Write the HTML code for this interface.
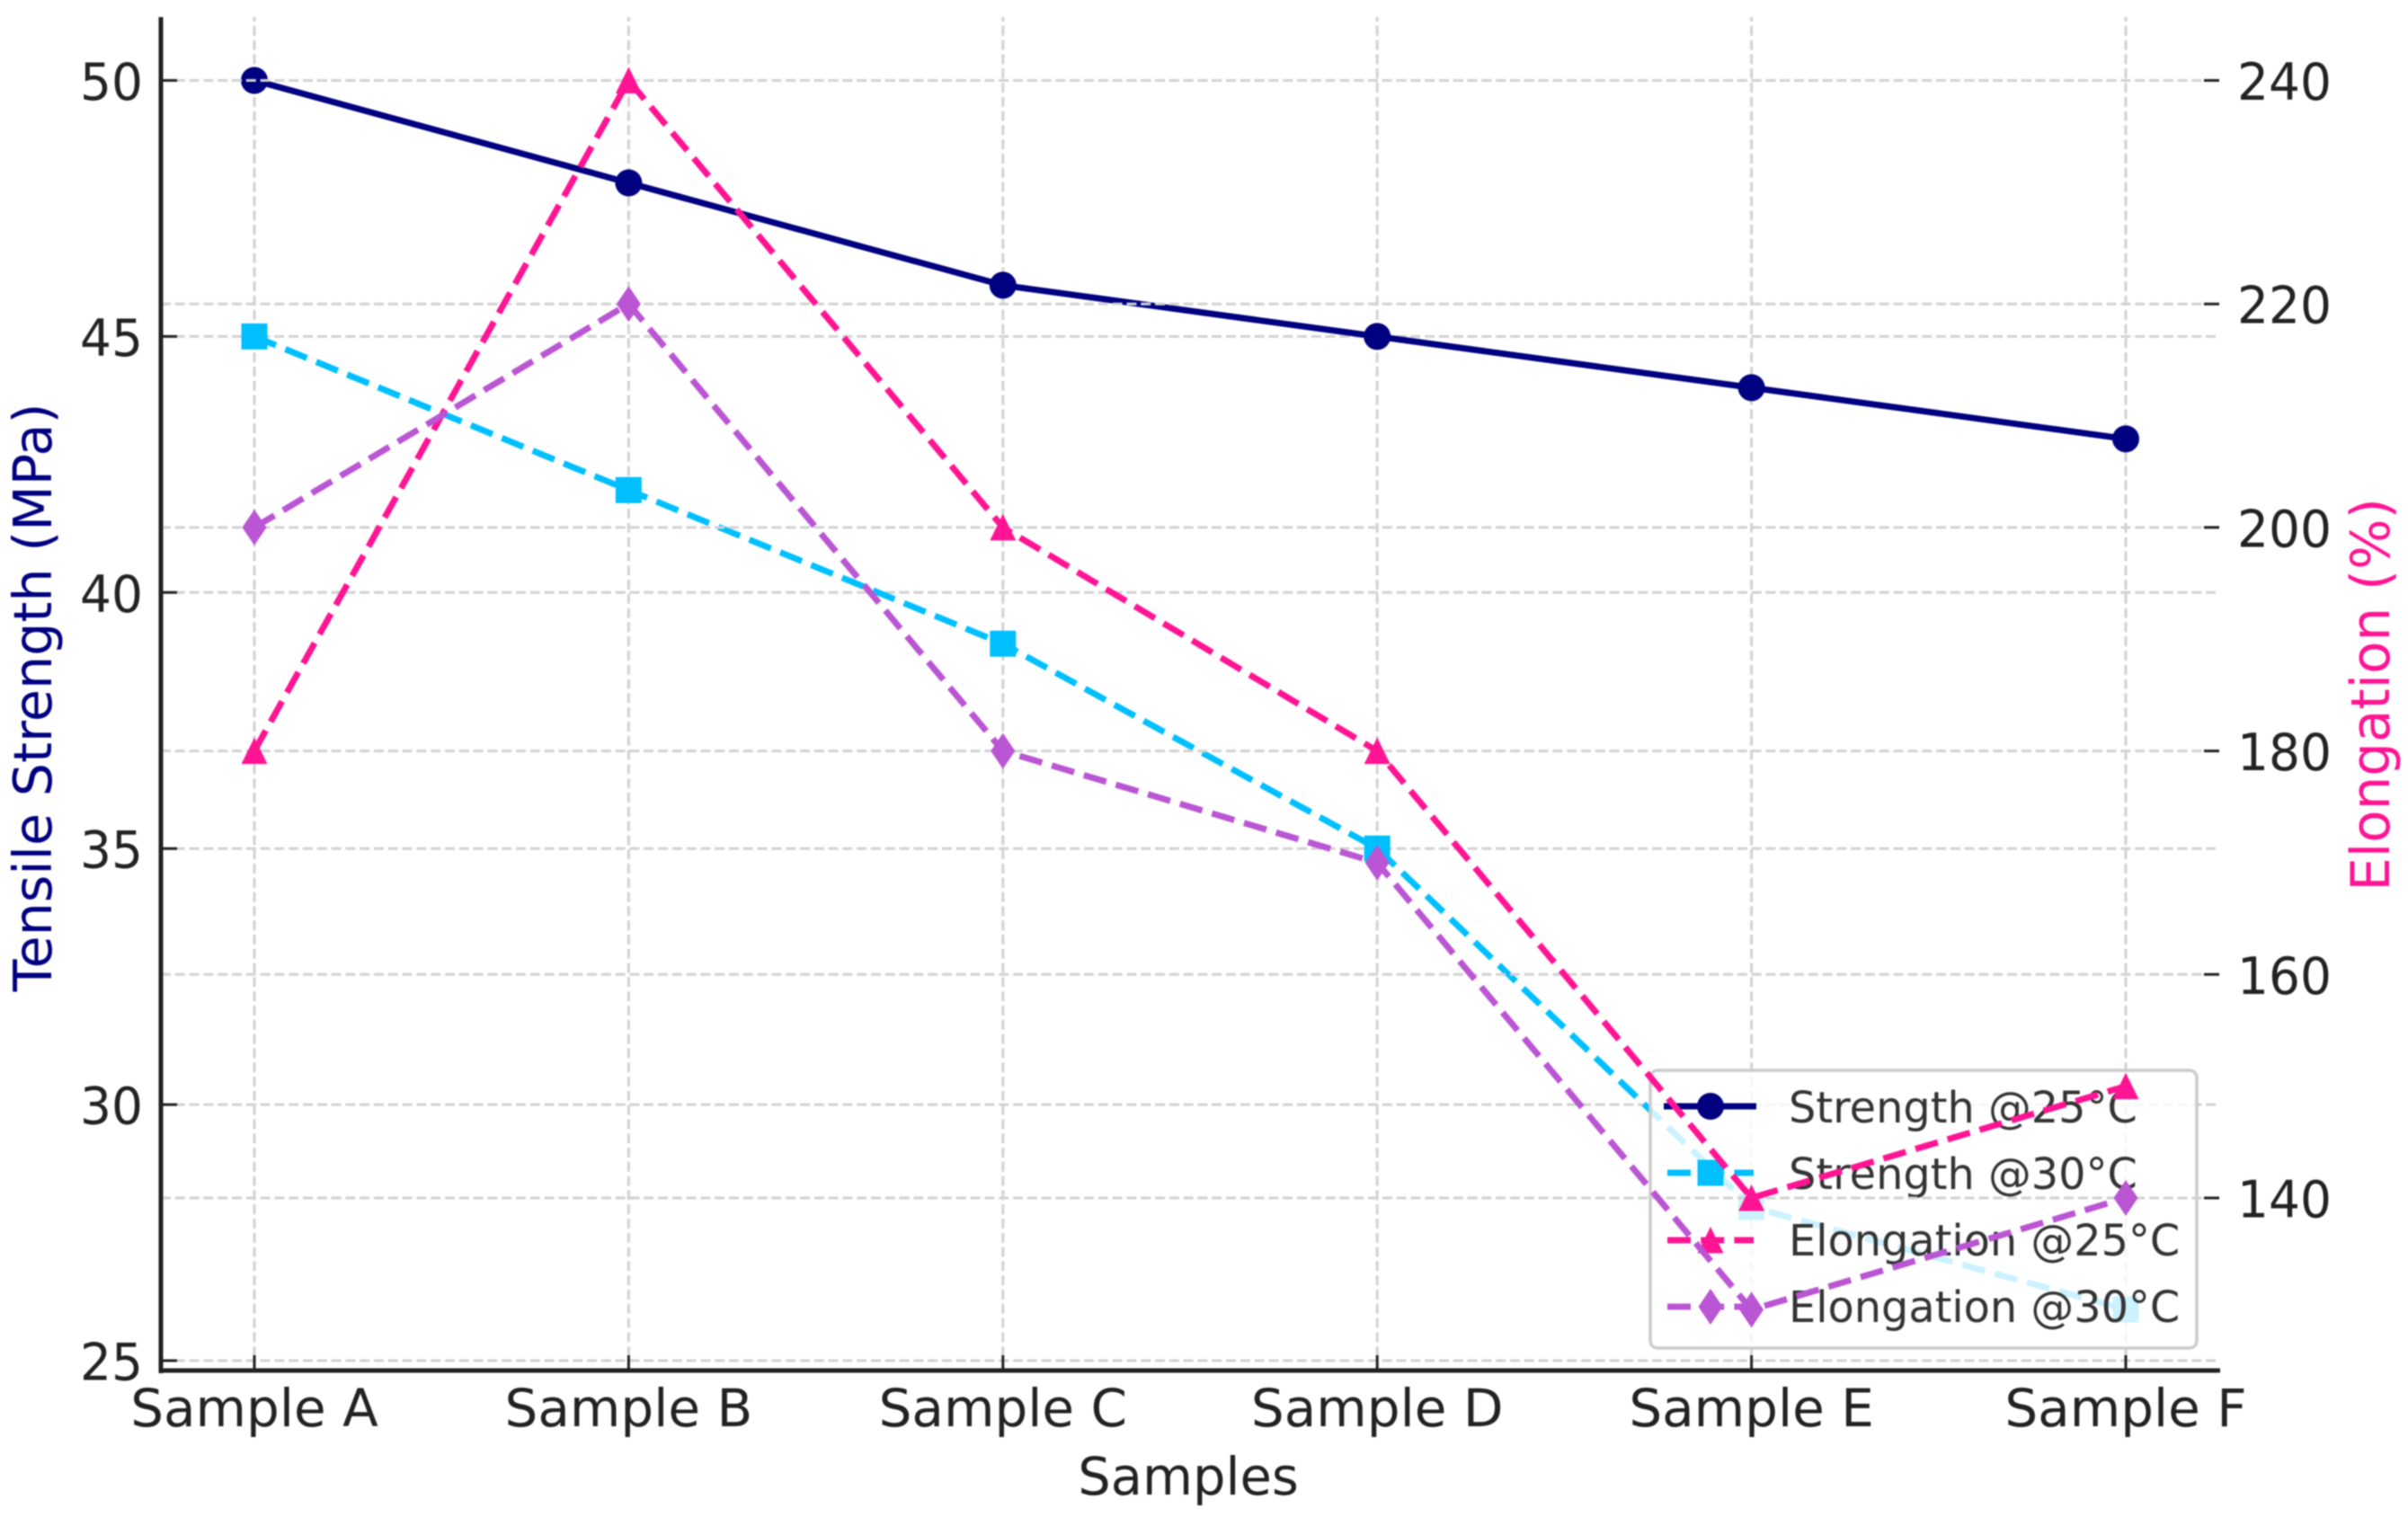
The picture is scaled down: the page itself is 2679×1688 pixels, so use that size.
<!DOCTYPE html>
<html lang="en">
<head>
<meta charset="utf-8">
<title>Tensile Strength and Elongation by Sample</title>
<style>
html,body{margin:0;padding:0;background:#fff;width:2679px;height:1688px;overflow:hidden}
svg{display:block;filter:blur(0.9px)}
text{font-family:"DejaVu Sans","Liberation Sans",sans-serif}
.tick{font-size:57px;fill:#222}
.xtick{font-size:58px;fill:#222}
.leg{font-size:47.8px;fill:#333}
</style>
</head>
<body>
<svg id="chart" xmlns="http://www.w3.org/2000/svg" width="2679" height="1688" viewBox="0 0 2679 1688">
  <rect x="0" y="0" width="2679" height="1688" fill="#fff"/>
  <g id="grid-left"></g>
  <g id="series-left"></g>
  <g id="legend">
    <rect x="1836" y="1191" width="608" height="309" rx="8" fill="#fff" fill-opacity="0.8" stroke="#ccc" stroke-width="3.5"/>
    <g id="legend-handles"></g>
    <text class="leg" x="1990" y="1249">Strength @25°C</text>
    <text class="leg" x="1990" y="1323">Strength @30°C</text>
    <text class="leg" x="1990" y="1397">Elongation @25°C</text>
    <text class="leg" x="1990" y="1471">Elongation @30°C</text>
  </g>
  <g id="grid-right"></g>
  <g id="series-right"></g>
  <g id="axes">
    <line x1="179" y1="19" x2="179" y2="1528" stroke="#222" stroke-width="5"/>
    <line x1="177" y1="1525" x2="2470" y2="1525" stroke="#222" stroke-width="5"/>
  </g>
  <g id="tick-marks"></g>
  <g id="tick-labels"></g>
  <text x="1322" y="1663" text-anchor="middle" font-size="57.5" fill="#222">Samples</text>
  <text transform="translate(57 776) rotate(-90)" text-anchor="middle" font-size="58.7" fill="#000080">Tensile Strength (MPa)</text>
  <text transform="translate(2658 773) rotate(-90)" text-anchor="middle" font-size="59.4" fill="#ff1493">Elongation (%)</text>
</svg>
<script>
const categories = ["Sample A", "Sample B", "Sample C", "Sample D", "Sample E", "Sample F"];
const strength25 = [50, 48, 46, 45, 44, 43];
const strength30 = [45, 42, 39, 35, 28, 26];
const elongation25 = [180, 240, 200, 180, 140, 150];
const elongation30 = [200, 220, 180, 170, 130, 140];
const leftTickLabels = [25, 30, 35, 40, 45, 50];
const rightTickLabels = [140, 160, 180, 200, 220, 240];

const NS = "http://www.w3.org/2000/svg";
const PLOT = {left: 179, right: 2469, top: 19, bottom: 1525};

function xScale(i) { return 283 + i * 416.4; }
function yLeft(v) { return 89.5 + (50 - v) * 56.98; }
function yRight(v) { return 89.5 + (240 - v) * 12.435; }

function make(tag, attrs, parent) {
  const el = document.createElementNS(NS, tag);
  for (const k in attrs) el.setAttribute(k, attrs[k]);
  parent.appendChild(el);
  return el;
}
function markerShape(kind, cx, cy, color, parent) {
  let el;
  if (kind === "circle") {
    el = make("circle", {cx: cx, cy: cy, r: 15, fill: color}, parent);
  } else if (kind === "square") {
    el = make("rect", {x: cx - 14.5, y: cy - 14.5, width: 29, height: 29, fill: color}, parent);
  } else if (kind === "triangle") {
    el = make("polygon", {points: [cx, cy - 15, cx + 14.5, cy + 14.5, cx - 14.5, cy + 14.5].join(" "), fill: color}, parent);
  } else {
    el = make("polygon", {points: [cx, cy - 20, cx + 13.5, cy, cx, cy + 20, cx - 13.5, cy].join(" "), fill: color}, parent);
  }
  return el;
}

const gridLeft = document.getElementById("grid-left");
const gridRight = document.getElementById("grid-right");
const seriesLeft = document.getElementById("series-left");
const seriesRight = document.getElementById("series-right");
const tickMarks = document.getElementById("tick-marks");
const tickLabels = document.getElementById("tick-labels");
const handles = document.getElementById("legend-handles");
const GRID = {stroke: "#d2d2d2", "stroke-width": 3, "stroke-dasharray": "11 4.8"};

// vertical grid lines, x ticks, x labels
categories.forEach(function (name, i) {
  const x = xScale(i);
  const g = make("line", Object.assign({x1: x, y1: PLOT.bottom, x2: x, y2: PLOT.top}, GRID), gridLeft);
  
  
  const t = make("line", {x1: x, y1: PLOT.bottom, x2: x, y2: PLOT.bottom - 17, stroke: "#222", "stroke-width": 3}, tickMarks);
  
  
  const l = make("text", {x: x, y: 1587, "text-anchor": "middle", "class": "xtick"}, tickLabels);
  l.textContent = name;
  
  
});

// left axis ticks + grid
leftTickLabels.forEach(function (v) {
  const y = yLeft(v);
  const g = make("line", Object.assign({x1: PLOT.left, y1: y, x2: PLOT.right - 4, y2: y}, GRID), gridLeft);
  
  
  const t = make("line", {x1: PLOT.left, y1: y, x2: PLOT.left + 18, y2: y, stroke: "#222", "stroke-width": 3}, tickMarks);
  
  
  const l = make("text", {transform: "translate(159 " + (y + 21.5) + ") scale(0.965 1)", "text-anchor": "end", "class": "tick"}, tickLabels);
  l.textContent = v;
  
  
});

// right axis ticks + grid
rightTickLabels.forEach(function (v) {
  const y = yRight(v);
  const g = make("line", Object.assign({x1: PLOT.left, y1: y, x2: PLOT.right - 17, y2: y}, GRID), gridRight);
  
  
  const t = make("line", {x1: PLOT.right - 17, y1: y, x2: PLOT.right, y2: y, stroke: "#222", "stroke-width": 3}, tickMarks);
  
  
  const l = make("text", {transform: "translate(2489 " + (y + 21.5) + ") scale(0.965 1)", "class": "tick"}, tickLabels);
  l.textContent = v;
  
  
});

function drawSeries(values, yFn, color, dashed, kind, parent, seriesName) {
  const pts = values.map(function (v, i) { return xScale(i) + "," + yFn(v); }).join(" ");
  const attrs = {points: pts, fill: "none", stroke: color, "stroke-width": 7, "stroke-linejoin": "round"};
  if (dashed) attrs["stroke-dasharray"] = "26 11.2";
  const line = make("polyline", attrs, parent);
  
  
  values.forEach(function (v, i) {
    const m = markerShape(kind, xScale(i), yFn(v), color, parent);
    
    
  });
}

drawSeries(strength25, yLeft, "#000080", false, "circle", seriesLeft, "strength-25");
drawSeries(strength30, yLeft, "#00bfff", true, "square", seriesLeft, "strength-30");
drawSeries(elongation25, yRight, "#ff1493", true, "triangle", seriesRight, "elongation-25");
drawSeries(elongation30, yRight, "#ba55d3", true, "diamond", seriesRight, "elongation-30");

// legend handles
function drawHandle(y, color, dashed, kind, name) {
  const a = {x1: dashed ? 1855 : 1851, y1: y, x2: dashed ? 1951 : 1954, y2: y, stroke: color, "stroke-width": 7};
  if (dashed) a["stroke-dasharray"] = "26 11.2";
  const h = make("line", a, handles);
  
  
  const m = markerShape(kind, 1903, y, color, handles);
  
  
}
drawHandle(1231, "#000080", false, "circle", "strength-25");
drawHandle(1305, "#00bfff", true, "square", "strength-30");
drawHandle(1380, "#ff1493", true, "triangle", "elongation-25");
drawHandle(1454, "#ba55d3", true, "diamond", "elongation-30");
</script>
</body>
</html>
